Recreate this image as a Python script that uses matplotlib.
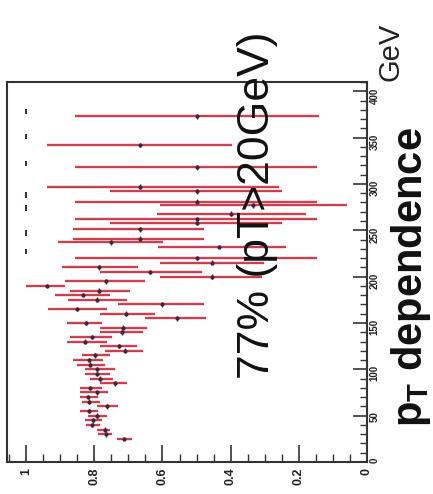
import matplotlib
matplotlib.use("Agg")
import matplotlib.pyplot as plt
from matplotlib.ticker import MultipleLocator

plt.rcParams['font.family'] = ['Liberation Sans', 'DejaVu Sans']
plt.rcParams['mathtext.fontset'] = 'custom'
plt.rcParams['mathtext.rm'] = 'Liberation Sans'
plt.rcParams['mathtext.bf'] = 'Liberation Sans:bold'

# Trigger efficiency versus jet pT (GeV)
pt = [25, 30, 35, 40, 45, 50, 55, 60, 65, 70, 75, 80, 85, 90, 95, 100,
      105, 110, 115, 120, 125, 130, 135, 140, 145, 150, 155, 160, 165, 170,
      175, 180, 185, 190, 195, 200, 205, 210, 215, 220,
      232, 237, 241, 251, 258, 262, 268, 277, 281, 292, 297, 318, 342, 373]
eff = [0.713, 0.766, 0.769, 0.807, 0.804, 0.792, 0.816, 0.763, 0.816, 0.819,
       0.792, 0.813, 0.740, 0.784, 0.792, 0.792, 0.813, 0.816, 0.798, 0.711,
       0.728, 0.827, 0.807, 0.719, 0.716, 0.825, 0.558, 0.708, 0.851, 0.602,
       0.792, 0.833, 0.787, 0.939, 0.766, 0.456, 0.637, 0.787, 0.456, 0.500,
       0.433, 0.751, 0.667, 0.667, 0.500, 0.500, 0.398, 0.333, 0.500, 0.500,
       0.667, 0.500, 0.667, 0.500]
eff_low = [0.690, 0.749, 0.754, 0.784, 0.778, 0.763, 0.789, 0.731, 0.784, 0.789,
           0.760, 0.778, 0.705, 0.746, 0.754, 0.740, 0.769, 0.775, 0.754, 0.658,
           0.675, 0.763, 0.749, 0.658, 0.646, 0.778, 0.471, 0.623, 0.763, 0.477,
           0.705, 0.754, 0.696, 0.886, 0.652, 0.307, 0.485, 0.673, 0.301, 0.146,
           0.237, 0.599, 0.477, 0.477, 0.249, 0.146, 0.178, 0.058, 0.146, 0.249,
           0.257, 0.146, 0.395, 0.140]
eff_high = [0.734, 0.789, 0.792, 0.825, 0.827, 0.819, 0.842, 0.792, 0.836, 0.842,
            0.842, 0.842, 0.784, 0.813, 0.827, 0.827, 0.851, 0.863, 0.836, 0.769,
            0.784, 0.880, 0.871, 0.784, 0.784, 0.880, 0.652, 0.784, 0.936, 0.731,
            0.877, 0.915, 0.871, 1.000, 0.886, 0.608, 0.784, 0.895, 0.608, 0.857,
            0.614, 0.906, 0.863, 0.863, 0.754, 0.857, 0.617, 0.608, 0.857, 0.754,
            0.939, 0.857, 0.939, 0.857]
pt_halfwidth = 2.5

# Bins with every event accepted
pt_full = [227, 247, 274, 288, 322, 351, 378]
eff_full = [1.0, 1.0, 1.0, 1.0, 1.0, 1.0, 1.0]

eff_ticks = [1.0, 0.8, 0.6, 0.4, 0.2, 0.0]
eff_ticklabels = ['1', '0.8', '0.6', '0.4', '0.2', '0']
pt_ticks = [0, 50, 100, 150, 200, 250, 300, 350, 400]

RED = '#d8404c'
DARK = '#3c2a3c'
FRAME = '#333333'

fig = plt.figure(figsize=(4.33, 4.94), dpi=100)
ax = fig.add_axes([7 / 433, 1 - 462 / 494, 360 / 433, 380 / 494])

xerr = [[e - lo for e, lo in zip(eff, eff_low)],
        [hi - e for e, hi in zip(eff, eff_high)]]
ax.errorbar(eff, pt, xerr=xerr, fmt='none', ecolor=RED, elinewidth=1.7,
            capsize=0, zorder=2)
ax.hlines(pt, eff_low, eff_high, colors='#5a4a86', linewidth=0.5,
          alpha=0.35, zorder=3)
ax.errorbar(eff, pt, yerr=pt_halfwidth, fmt='o', ms=2.0, color=DARK,
            ecolor=DARK, elinewidth=1.0, capsize=0, zorder=4)
ax.errorbar(eff_full, pt_full, yerr=3, fmt='none', ecolor=DARK,
            elinewidth=1.4, capsize=0, zorder=4)

ax.set_xlim(1.056, 0.0)
ax.set_ylim(0, 410)

ax.set_xticks(eff_ticks)
ax.set_xticklabels(eff_ticklabels)
ax.xaxis.set_minor_locator(MultipleLocator(0.05))
ax.set_yticks(pt_ticks)
ax.set_yticklabels([str(v) for v in pt_ticks])
ax.yaxis.set_minor_locator(MultipleLocator(10))
ax.yaxis.tick_right()

ax.tick_params(axis='x', which='major', direction='in', length=12, width=1.2,
               labelrotation=90, labelsize=9, pad=4, color=FRAME)
ax.tick_params(axis='x', which='minor', direction='in', length=6, width=1.0,
               color=FRAME)
ax.tick_params(axis='y', which='major', direction='in', length=10, width=1.2,
               labelrotation=90, labelsize=7, pad=2, color=FRAME)
ax.tick_params(axis='y', which='minor', direction='in', length=5, width=1.0,
               color=FRAME)
for lbl in ax.get_xticklabels() + ax.get_yticklabels():
    lbl.set_fontweight('bold')
    lbl.set_color('#222222')

for sp in ax.spines.values():
    sp.set_linewidth(1.5)
    sp.set_color(FRAME)

fig.text(258 / 433, 1 - 205 / 494, '77% (pT>20GeV)', rotation=90,
         fontsize=32, ha='center', va='center', color='#111111')
fig.text(411 / 433, 1 - 277 / 494, r'p$_{\mathbf{T}}$ dependence', rotation=90,
         fontsize=30, fontweight='bold', ha='center', va='center',
         color='#111111')
fig.text(391 / 433, 1 - 52 / 494, 'GeV', rotation=90, fontsize=21,
         ha='center', va='center', color='#222222')

fig.savefig('out.png', dpi=100, facecolor='white')
